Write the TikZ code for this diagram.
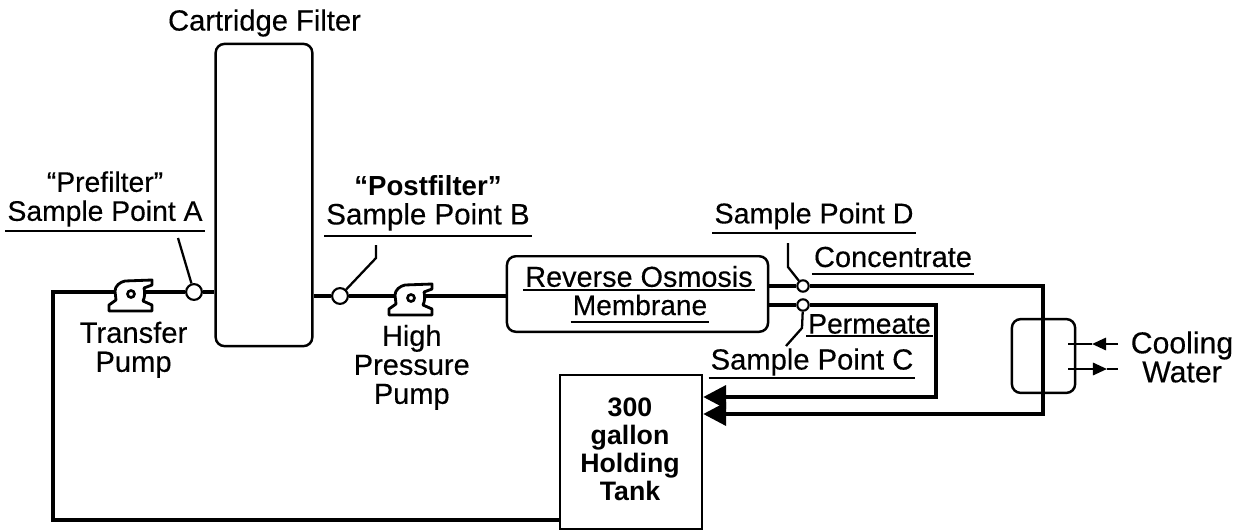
\documentclass[tikz,border=0pt]{standalone}
\usepackage{fontspec}
\setmainfont[FakeBold=0.3,BoldFeatures={FakeBold=0}]{Liberation Sans}
\usetikzlibrary{arrows.meta,positioning}

\tikzset{
    txt/.style={inner sep=1pt,align=center,font=\fontsize{#1}{16.5}\selectfont},
    txt/.default=16.4,
    pipe/.style={line width=2.3pt,line join=miter},
    rule/.style={line width=1.1pt},
    thin line/.style={line width=1.3pt},
    port/.style={circle,draw,fill=white,line width=1.2pt,inner sep=0pt},
    unit/.style={draw,line width=1.4pt,rounded corners=5pt,inner sep=0pt},
    pumpnode/.style={inner sep=0pt,minimum width=16pt,minimum height=12pt},
    bigtip/.style={-{Triangle[length=13pt,width=13pt]}},
    smalltip/.style={-{Triangle[length=8pt,width=7pt]}},
    pump/.pic={
        \draw[line width=1.6pt,fill=white,line join=round]
            (21,-14) -- (-6,-13) .. controls (-11,-12) and (-16,-8) .. (-16,-3)
            -- (-15,6) -- (-22,11) -- (-22,17) -- (21,17) -- (21,11) -- (12,7)
            .. controls (14,3) and (14,-2) .. (13,-6) -- (21,-9) -- cycle;
        \draw[line width=1.5pt,fill=white] (0,0) circle (3.5);
    }
}

\begin{document}
\begin{tikzpicture}[x=0.02cm,y=-0.02cm]
    \useasboundingbox (0,0) rectangle (1250,531);

    \node[unit,minimum width=55pt,minimum height=172pt] (filter) at (264,195) {};
    \node[unit,minimum width=148.6pt,minimum height=43pt] (ro) at (637.5,294) {};
    \node[unit,minimum width=36pt,minimum height=42pt] (hx) at (1043.5,356) {};
    \node[draw,line width=1.4pt,minimum width=80.8pt,minimum height=87.6pt] (tank) at (631,452) {};

    \node[port,minimum size=9pt] (spa) at (194,292) {};
    \node[port,minimum size=9pt] (spb) at (340,296) {};
    \node[port,minimum size=6.5pt] (spd) at (803,286) {};
    \node[port,minimum size=6.5pt] (spc) at (803,305) {};
    \node[pumpnode] (tpump) at (130,292) {};
    \node[pumpnode] (hpump) at (410,296) {};

    \node[txt=16.6] (cart) at (264.5,23) {Cartridge Filter};
    \node[txt=16.1,inner ysep=2pt] (lbla) at (105,199) {``Prefilter''\\Sample Point A};
    \node[txt=16.8,inner ysep=3pt] (lblb) at (428,203) {{\fontsize{15.7}{16.5}\selectfont\bfseries``Postfilter''}\\Sample Point B};
    \node[txt=16.3,inner ysep=2pt] (lbld) at (814,216) {Sample Point D};
    \node[txt=16.5,inner ysep=3.5pt] (conc) at (893,257) {Concentrate};
    \node[txt=16.1] (perm) at (869.5,324) {Permeate};
    \node[txt=16.6] (lblc) at (812,362) {Sample Point C};
    \node[txt=16.4,inner ysep=1.5pt] (rotop) at (639,276.5) {Reverse Osmosis};
    \node[txt=16,inner ysep=3.5pt] (robot) at (640,305) {Membrane};
    \node[txt=16.6,below=9.5pt of tpump,xshift=2pt] (tlbl) {Transfer\\Pump};
    \node[txt=16.5,below=9pt of hpump,xshift=1pt] (hlbl) {High\\Pressure\\Pump};
    \node[txt=17.2] (cool) at (1182,357) {Cooling\\Water};
    \node[inner sep=1pt,align=center,font=\fontsize{15.2}{16}\selectfont\bfseries] (tanktxt) at (630,449)
        {300\\gallon\\Holding\\Tank};

    \coordinate (c1) at (53,292);
    \coordinate (c2) at (53,520);
    \coordinate (c3) at (1043,286);
    \coordinate (c4) at (1043,414);
    \coordinate (c5) at (936,305);
    \coordinate (c6) at (936,397);
    \coordinate (la) at (178,238);
    \coordinate (lb1) at (376,245);
    \coordinate (lb2) at (376,258);
    \coordinate (ld1) at (788,243);
    \coordinate (ld2) at (788,267);
    \coordinate (lc1) at (786,346);
    \coordinate (lc2) at (802,328);
    \coordinate (w1) at (1118,344);
    \coordinate (w2) at (1092,344);
    \coordinate (w3) at (1068,344);
    \coordinate (w4) at (1068,369);
    \coordinate (w5) at (1107,369);
    \coordinate (w6) at (1118,369);

    \draw[pipe] (tank.west |- c2) -- (c2) -- (c1) -- (tpump);
    \path[pipe] (tpump) edge (spa)
                (spa) edge (filter.west |- spa)
                (filter.east |- spb) edge (spb)
                (spb) edge (hpump)
                (hpump) edge (ro.west |- hpump)
                (ro.east |- spd) edge (spd)
                (ro.east |- spc) edge (spc)
                ;
    \draw[pipe,bigtip] (spc) -- (c5) -- (c6) -- (tank.east |- c6);
    \draw[pipe,bigtip] (spd) -- (c3) -- (c4) -- (tank.east |- c4);

    \pic at ([shift={(1,2)}]tpump) {pump};
    \pic at ([shift={(1,2)}]hpump) {pump};

    \draw[thin line] (la) -- (spa);
    \draw[thin line] (lb1) -- (lb2) -- (spb);
    \draw[thin line] (ld1) -- (ld2) -- (spd);
    \draw[thin line] (lc1) -- (lc2) -- (spc);

    \draw[thin line,smalltip] (w1) -- (w2);
    \draw[thin line] (w2) -- (w3);
    \draw[thin line,smalltip] (w4) -- (w5);
    \draw[thin line] (w5) -- (w6);

    \foreach \n in {lbla,lblb,lbld,conc,perm,lblc,rotop,robot}
        \draw[rule] (\n.south west) -- (\n.south east);
\end{tikzpicture}
\end{document}
